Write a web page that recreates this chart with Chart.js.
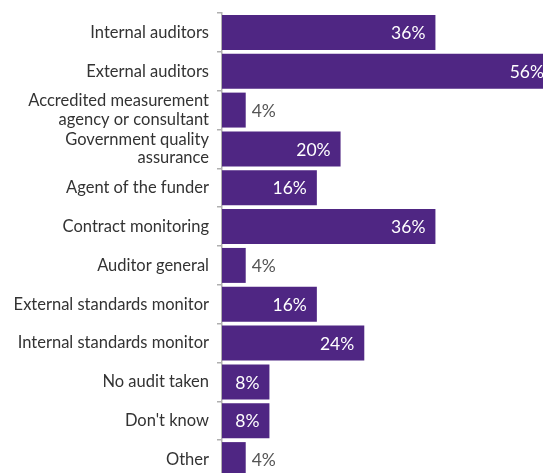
<!DOCTYPE html>
<html>
<head>
<meta charset="utf-8">
<script src="https://cdn.jsdelivr.net/npm/chart.js@4.4.0/dist/chart.umd.min.js"></script>
<style>
  html, body { margin: 0; padding: 0; background: #fff; overflow: hidden; }
  #wrap { position: relative; width: 554px; height: 480px; }
</style>
</head>
<body>
<div id="wrap"><canvas id="chart"></canvas></div>
<script>
// Who audits the results
const categories = [
  'Internal auditors',
  'External auditors',
  ['Accredited measurement', 'agency or consultant'],
  ['Government quality', 'assurance'],
  'Agent of the funder',
  'Contract monitoring',
  'Auditor general',
  'External standards monitor',
  'Internal standards monitor',
  'No audit taken',
  "Don't know",
  'Other'
];
const shares = [36, 56, 4, 20, 16, 36, 4, 16, 24, 8, 8, 4];
const barColour = '#4f2683';

// Percentage labels: white inside the longer bars, grey beside the short ones
const valueLabels = {
  id: 'valueLabels',
  afterDatasetsDraw(chart) {
    const ctx = chart.ctx;
    const meta = chart.getDatasetMeta(0);
    ctx.save();
    ctx.font = '17.5px Lato';
    ctx.textBaseline = 'middle';
    meta.data.forEach((bar, i) => {
      const v = shares[i];
      const text = v + '%';
      if (v >= 8) {
        ctx.fillStyle = '#ffffff';
        ctx.textAlign = 'right';
        ctx.fillText(text, bar.x - 10, bar.y + 1);
      } else {
        ctx.fillStyle = '#555555';
        ctx.textAlign = 'left';
        ctx.fillText(text, bar.x + 6, bar.y + 1);
      }
    });
    ctx.restore();
  }
};

new Chart(document.getElementById('chart'), {
  type: 'bar',
  data: {
    labels: categories,
    datasets: [{
      data: shares,
      backgroundColor: barColour,
      borderWidth: 0,
      barPercentage: 0.9,
      categoryPercentage: 1.0
    }]
  },
  options: {
    indexAxis: 'y',
    responsive: true,
    maintainAspectRatio: false,
    animation: false,
    layout: { padding: { top: 13, bottom: 1, left: 0, right: 0 } },
    plugins: { legend: { display: false }, tooltip: { enabled: false } },
    scales: {
      x: { display: false, min: 0, max: 56 },
      y: {
        afterFit(scale) {
          scale.width = 222;
          scale.paddingTop = 0;
          scale.paddingBottom = 0;
        },
        grid: {
          display: true,
          drawOnChartArea: false,
          drawTicks: true,
          tickLength: 5,
          color: '#b0b0b0',
          lineWidth: 1.5,
          offset: true
        },
        border: { display: true, color: '#b0b0b0', width: 1.5 },
        ticks: {
          padding: 8,
          color: '#333333',
          font: { family: 'Lato', size: 16.5, lineHeight: 1.12 },
          autoSkip: false
        }
      }
    }
  },
  plugins: [valueLabels]
});
</script>
</body>
</html>
